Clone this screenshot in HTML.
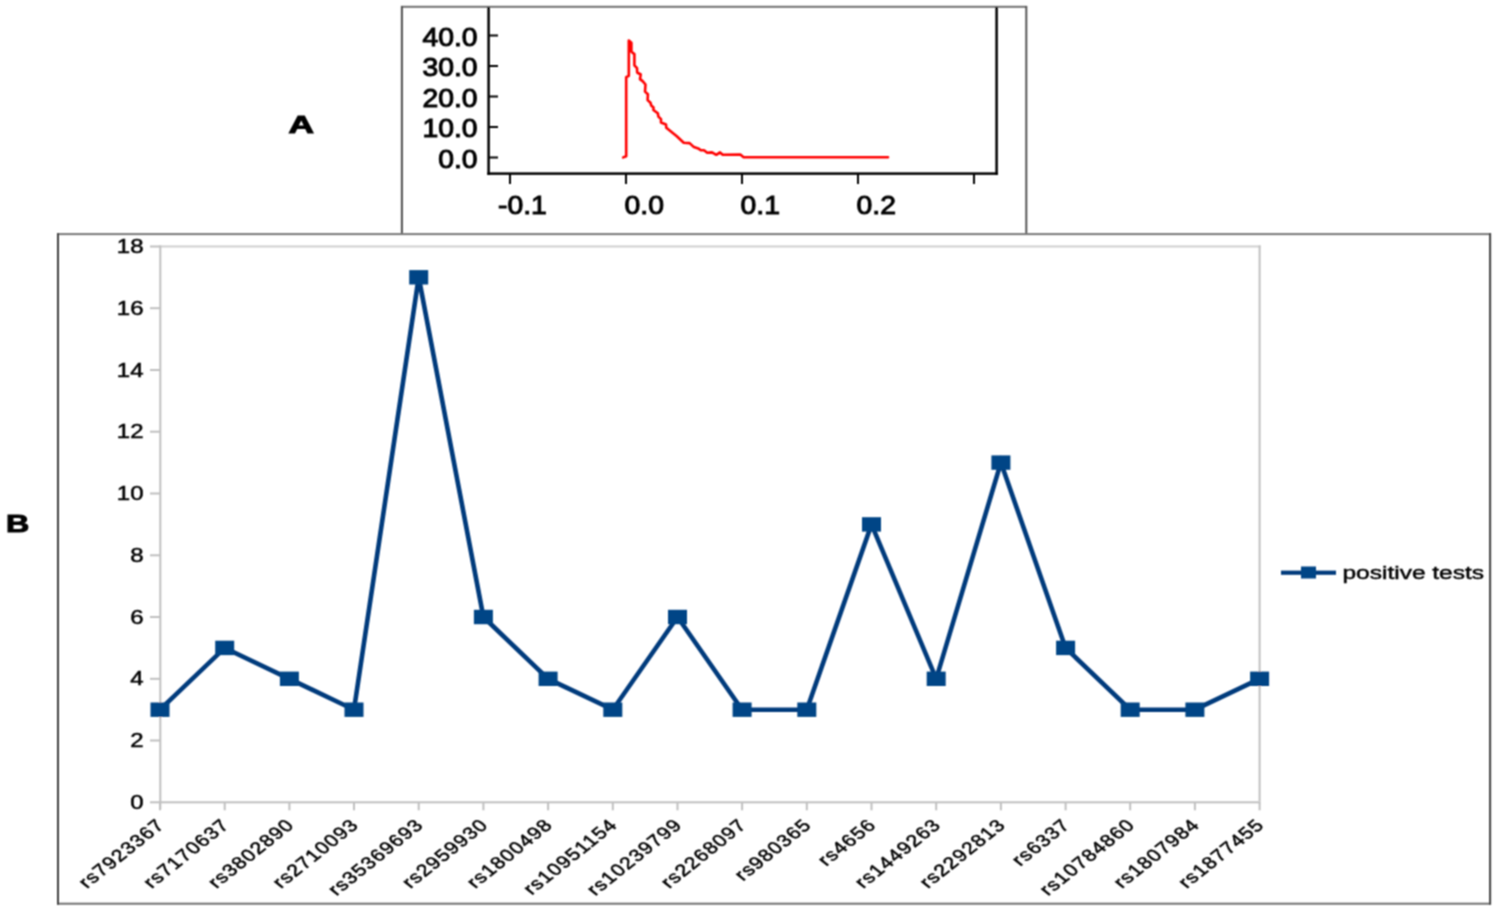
<!DOCTYPE html><html><head><meta charset="utf-8"><style>html,body{margin:0;padding:0;background:#fff;}svg{display:block}text{font-family:"Liberation Sans",sans-serif;}</style></head><body>
<svg width="1498" height="912" viewBox="0 0 1498 912">
<rect x="0" y="0" width="1498" height="912" fill="#ffffff"/>
<defs><filter id="bl" x="0" y="0" width="1498" height="912" filterUnits="userSpaceOnUse"><feConvolveMatrix order="3" kernelMatrix="1 2 1 2 4 2 1 2 1" divisor="16" edgeMode="duplicate" preserveAlpha="false"/></filter></defs>
<g filter="url(#bl)">
<g>
<rect x="401" y="5.8" width="626" height="2" fill="#707070"/>
<rect x="400.9" y="6" width="2" height="228" fill="#505050"/>
<rect x="1025.3" y="6" width="2" height="228" fill="#555555"/>
</g>
<g fill="#000">
<rect x="487.35" y="7" width="2.5" height="168"/>
<rect x="995.35" y="7" width="2.5" height="168"/>
<rect x="487.35" y="172.35" width="510.5" height="2.5"/>
<rect x="489" y="34.50" width="9" height="2"/>
<rect x="489" y="65.00" width="9" height="2"/>
<rect x="489" y="95.50" width="9" height="2"/>
<rect x="489" y="126.00" width="9" height="2"/>
<rect x="489" y="156.50" width="9" height="2"/>
<rect x="509" y="174" width="2" height="10"/>
<rect x="625" y="174" width="2" height="10"/>
<rect x="741" y="174" width="2" height="10"/>
<rect x="857" y="174" width="2" height="10"/>
<rect x="973" y="174" width="2" height="10"/>
</g>
<text transform="translate(477.6,45.5) scale(1.09,1)" font-size="26" text-anchor="end" fill="#000" stroke="#000" stroke-width="1">40.0</text>
<text transform="translate(477.6,76.0) scale(1.09,1)" font-size="26" text-anchor="end" fill="#000" stroke="#000" stroke-width="1">30.0</text>
<text transform="translate(477.6,106.5) scale(1.09,1)" font-size="26" text-anchor="end" fill="#000" stroke="#000" stroke-width="1">20.0</text>
<text transform="translate(477.6,137.0) scale(1.09,1)" font-size="26" text-anchor="end" fill="#000" stroke="#000" stroke-width="1">10.0</text>
<text transform="translate(477.6,167.5) scale(1.09,1)" font-size="26" text-anchor="end" fill="#000" stroke="#000" stroke-width="1">0.0</text>
<text transform="translate(498,214.2) scale(1.09,1)" font-size="26" fill="#000" stroke="#000" stroke-width="1">-0.1</text>
<text transform="translate(624.5,214.2) scale(1.09,1)" font-size="26" fill="#000" stroke="#000" stroke-width="1">0.0</text>
<text transform="translate(740.5,214.2) scale(1.09,1)" font-size="26" fill="#000" stroke="#000" stroke-width="1">0.1</text>
<text transform="translate(856.5,214.2) scale(1.09,1)" font-size="26" fill="#000" stroke="#000" stroke-width="1">0.2</text>
<path d="M623.2,157.4 L626.2,156.2 L626.2,77.1 L628.8,75.8 L628.8,40.6 L631.4,42.8 L631.4,51.8 L634.4,54.1 L634.4,65.3 L637,68.2 L637.2,72.5 L640.7,74.5 L640,79.1 L642.6,81.1 L645.5,84.5 L645,91.6 L647.9,94.2 L647.6,100.1 L650.5,102.8 L651.2,105.4 L653.5,107.4 L653.4,110 L657.8,113.3 L658.4,116.6 L661,119.2 L661,122.5 L666,124.5 L666.3,127.8 L676.8,136.3 L683.7,142.8 L689.6,143.1 L693.9,147.1 L698.2,148.4 L700.8,150.3 L704,150.3 L707.2,152.7 L712,152.4 L716.3,154.8 L720,152.4 L722.7,154.8 L740.3,154.6 L743.6,157.2 L888,157.2" fill="none" stroke="#ff0000" stroke-width="2.6" stroke-linejoin="round" stroke-linecap="round"/>
<text transform="translate(288.6,132.6) scale(1.5,1)" font-size="23.5" font-weight="bold" fill="#000" stroke="#000" stroke-width="1">A</text>
<g>
<rect x="57" y="233.1" width="1434" height="2" fill="#787878"/>
<rect x="57" y="902.7" width="1434" height="2" fill="#707070"/>
<rect x="57" y="233.1" width="2" height="671.6" fill="#404040"/>
<rect x="1489.1" y="233.1" width="2" height="671.6" fill="#404040"/>
</g>
<g fill="#c0c0c0">
<rect x="159.3" y="245.46" width="1101.3" height="2" fill="#cfcfcf"/>
<rect x="1258.6" y="245.46" width="2" height="555.8"/>
<rect x="159.3" y="245.46" width="2" height="563.8"/>
<rect x="159" y="801.3" width="1101.6" height="2"/>
<rect x="150" y="801.3" width="10" height="2"/>
<rect x="150" y="739.5" width="10" height="2"/>
<rect x="150" y="677.8" width="10" height="2"/>
<rect x="150" y="616.0" width="10" height="2"/>
<rect x="150" y="554.3" width="10" height="2"/>
<rect x="150" y="492.5" width="10" height="2"/>
<rect x="150" y="430.7" width="10" height="2"/>
<rect x="150" y="369.0" width="10" height="2"/>
<rect x="150" y="307.2" width="10" height="2"/>
<rect x="150" y="245.5" width="10" height="2"/>
<rect x="159.0" y="802.3" width="2" height="8"/>
<rect x="223.7" y="802.3" width="2" height="8"/>
<rect x="288.4" y="802.3" width="2" height="8"/>
<rect x="353.0" y="802.3" width="2" height="8"/>
<rect x="417.7" y="802.3" width="2" height="8"/>
<rect x="482.4" y="802.3" width="2" height="8"/>
<rect x="547.1" y="802.3" width="2" height="8"/>
<rect x="611.8" y="802.3" width="2" height="8"/>
<rect x="676.5" y="802.3" width="2" height="8"/>
<rect x="741.1" y="802.3" width="2" height="8"/>
<rect x="805.8" y="802.3" width="2" height="8"/>
<rect x="870.5" y="802.3" width="2" height="8"/>
<rect x="935.2" y="802.3" width="2" height="8"/>
<rect x="999.9" y="802.3" width="2" height="8"/>
<rect x="1064.6" y="802.3" width="2" height="8"/>
<rect x="1129.2" y="802.3" width="2" height="8"/>
<rect x="1193.9" y="802.3" width="2" height="8"/>
<rect x="1258.6" y="802.3" width="2" height="8"/>
</g>
<text transform="translate(143.5,808.9) scale(1.2,1)" font-size="20" text-anchor="end" fill="#000" stroke="#000" stroke-width="0.5">0</text>
<text transform="translate(143.5,747.1) scale(1.2,1)" font-size="20" text-anchor="end" fill="#000" stroke="#000" stroke-width="0.5">2</text>
<text transform="translate(143.5,685.4) scale(1.2,1)" font-size="20" text-anchor="end" fill="#000" stroke="#000" stroke-width="0.5">4</text>
<text transform="translate(143.5,623.6) scale(1.2,1)" font-size="20" text-anchor="end" fill="#000" stroke="#000" stroke-width="0.5">6</text>
<text transform="translate(143.5,561.9) scale(1.2,1)" font-size="20" text-anchor="end" fill="#000" stroke="#000" stroke-width="0.5">8</text>
<text transform="translate(143.5,500.1) scale(1.2,1)" font-size="20" text-anchor="end" fill="#000" stroke="#000" stroke-width="0.5">10</text>
<text transform="translate(143.5,438.3) scale(1.2,1)" font-size="20" text-anchor="end" fill="#000" stroke="#000" stroke-width="0.5">12</text>
<text transform="translate(143.5,376.6) scale(1.2,1)" font-size="20" text-anchor="end" fill="#000" stroke="#000" stroke-width="0.5">14</text>
<text transform="translate(143.5,314.8) scale(1.2,1)" font-size="20" text-anchor="end" fill="#000" stroke="#000" stroke-width="0.5">16</text>
<text transform="translate(143.5,253.1) scale(1.2,1)" font-size="20" text-anchor="end" fill="#000" stroke="#000" stroke-width="0.5">18</text>
<path d="M160.0,709.7 L224.7,647.9 L289.4,678.8 L354.0,709.7 L418.7,277.3 L483.4,617.0 L548.1,678.8 L612.8,709.7 L677.5,617.0 L742.1,709.7 L806.8,709.7 L871.5,524.4 L936.2,678.8 L1000.9,462.6 L1065.6,647.9 L1130.2,709.7 L1194.9,709.7 L1259.6,678.8" fill="none" stroke="#003a7c" stroke-width="4.6" stroke-linejoin="miter"/>
<rect x="150.5" y="702.5" width="19" height="14.4" fill="#004586"/>
<rect x="215.2" y="640.7" width="19" height="14.4" fill="#004586"/>
<rect x="279.9" y="671.6" width="19" height="14.4" fill="#004586"/>
<rect x="344.5" y="702.5" width="19" height="14.4" fill="#004586"/>
<rect x="409.2" y="270.1" width="19" height="14.4" fill="#004586"/>
<rect x="473.9" y="609.8" width="19" height="14.4" fill="#004586"/>
<rect x="538.6" y="671.6" width="19" height="14.4" fill="#004586"/>
<rect x="603.3" y="702.5" width="19" height="14.4" fill="#004586"/>
<rect x="668.0" y="609.8" width="19" height="14.4" fill="#004586"/>
<rect x="732.6" y="702.5" width="19" height="14.4" fill="#004586"/>
<rect x="797.3" y="702.5" width="19" height="14.4" fill="#004586"/>
<rect x="862.0" y="517.2" width="19" height="14.4" fill="#004586"/>
<rect x="926.7" y="671.6" width="19" height="14.4" fill="#004586"/>
<rect x="991.4" y="455.4" width="19" height="14.4" fill="#004586"/>
<rect x="1056.1" y="640.7" width="19" height="14.4" fill="#004586"/>
<rect x="1120.7" y="702.5" width="19" height="14.4" fill="#004586"/>
<rect x="1185.4" y="702.5" width="19" height="14.4" fill="#004586"/>
<rect x="1250.1" y="671.6" width="19" height="14.4" fill="#004586"/>
<text transform="translate(166.0,825.8) scale(1.25,1) rotate(-45)" font-size="17" letter-spacing="1" text-anchor="end" fill="#000" stroke="#000" stroke-width="0.5">rs7923367</text>
<text transform="translate(230.7,825.8) scale(1.25,1) rotate(-45)" font-size="17" letter-spacing="1" text-anchor="end" fill="#000" stroke="#000" stroke-width="0.5">rs7170637</text>
<text transform="translate(295.4,825.8) scale(1.25,1) rotate(-45)" font-size="17" letter-spacing="1" text-anchor="end" fill="#000" stroke="#000" stroke-width="0.5">rs3802890</text>
<text transform="translate(360.0,825.8) scale(1.25,1) rotate(-45)" font-size="17" letter-spacing="1" text-anchor="end" fill="#000" stroke="#000" stroke-width="0.5">rs2710093</text>
<text transform="translate(424.7,825.8) scale(1.25,1) rotate(-45)" font-size="17" letter-spacing="1" text-anchor="end" fill="#000" stroke="#000" stroke-width="0.5">rs35369693</text>
<text transform="translate(489.4,825.8) scale(1.25,1) rotate(-45)" font-size="17" letter-spacing="1" text-anchor="end" fill="#000" stroke="#000" stroke-width="0.5">rs2959930</text>
<text transform="translate(554.1,825.8) scale(1.25,1) rotate(-45)" font-size="17" letter-spacing="1" text-anchor="end" fill="#000" stroke="#000" stroke-width="0.5">rs1800498</text>
<text transform="translate(618.8,825.8) scale(1.25,1) rotate(-45)" font-size="17" letter-spacing="1" text-anchor="end" fill="#000" stroke="#000" stroke-width="0.5">rs10951154</text>
<text transform="translate(683.5,825.8) scale(1.25,1) rotate(-45)" font-size="17" letter-spacing="1" text-anchor="end" fill="#000" stroke="#000" stroke-width="0.5">rs10239799</text>
<text transform="translate(748.1,825.8) scale(1.25,1) rotate(-45)" font-size="17" letter-spacing="1" text-anchor="end" fill="#000" stroke="#000" stroke-width="0.5">rs2268097</text>
<text transform="translate(812.8,825.8) scale(1.25,1) rotate(-45)" font-size="17" letter-spacing="1" text-anchor="end" fill="#000" stroke="#000" stroke-width="0.5">rs980365</text>
<text transform="translate(877.5,825.8) scale(1.25,1) rotate(-45)" font-size="17" letter-spacing="1" text-anchor="end" fill="#000" stroke="#000" stroke-width="0.5">rs4656</text>
<text transform="translate(942.2,825.8) scale(1.25,1) rotate(-45)" font-size="17" letter-spacing="1" text-anchor="end" fill="#000" stroke="#000" stroke-width="0.5">rs1449263</text>
<text transform="translate(1006.9,825.8) scale(1.25,1) rotate(-45)" font-size="17" letter-spacing="1" text-anchor="end" fill="#000" stroke="#000" stroke-width="0.5">rs2292813</text>
<text transform="translate(1071.6,825.8) scale(1.25,1) rotate(-45)" font-size="17" letter-spacing="1" text-anchor="end" fill="#000" stroke="#000" stroke-width="0.5">rs6337</text>
<text transform="translate(1136.2,825.8) scale(1.25,1) rotate(-45)" font-size="17" letter-spacing="1" text-anchor="end" fill="#000" stroke="#000" stroke-width="0.5">rs10784860</text>
<text transform="translate(1200.9,825.8) scale(1.25,1) rotate(-45)" font-size="17" letter-spacing="1" text-anchor="end" fill="#000" stroke="#000" stroke-width="0.5">rs1807984</text>
<text transform="translate(1265.6,825.8) scale(1.25,1) rotate(-45)" font-size="17" letter-spacing="1" text-anchor="end" fill="#000" stroke="#000" stroke-width="0.5">rs1877455</text>
<rect x="1281" y="570.6" width="55" height="4.2" fill="#003a7c"/>
<rect x="1301" y="566.5" width="15" height="12" fill="#004586"/>
<text transform="translate(1342.5,578.8) scale(1.29,1)" font-size="19" fill="#000" stroke="#000" stroke-width="0.45">positive tests</text>
<text transform="translate(5.9,532.0) scale(1.4,1)" font-size="23" font-weight="bold" fill="#000" stroke="#000" stroke-width="1">B</text>
</g>
</svg></body></html>
